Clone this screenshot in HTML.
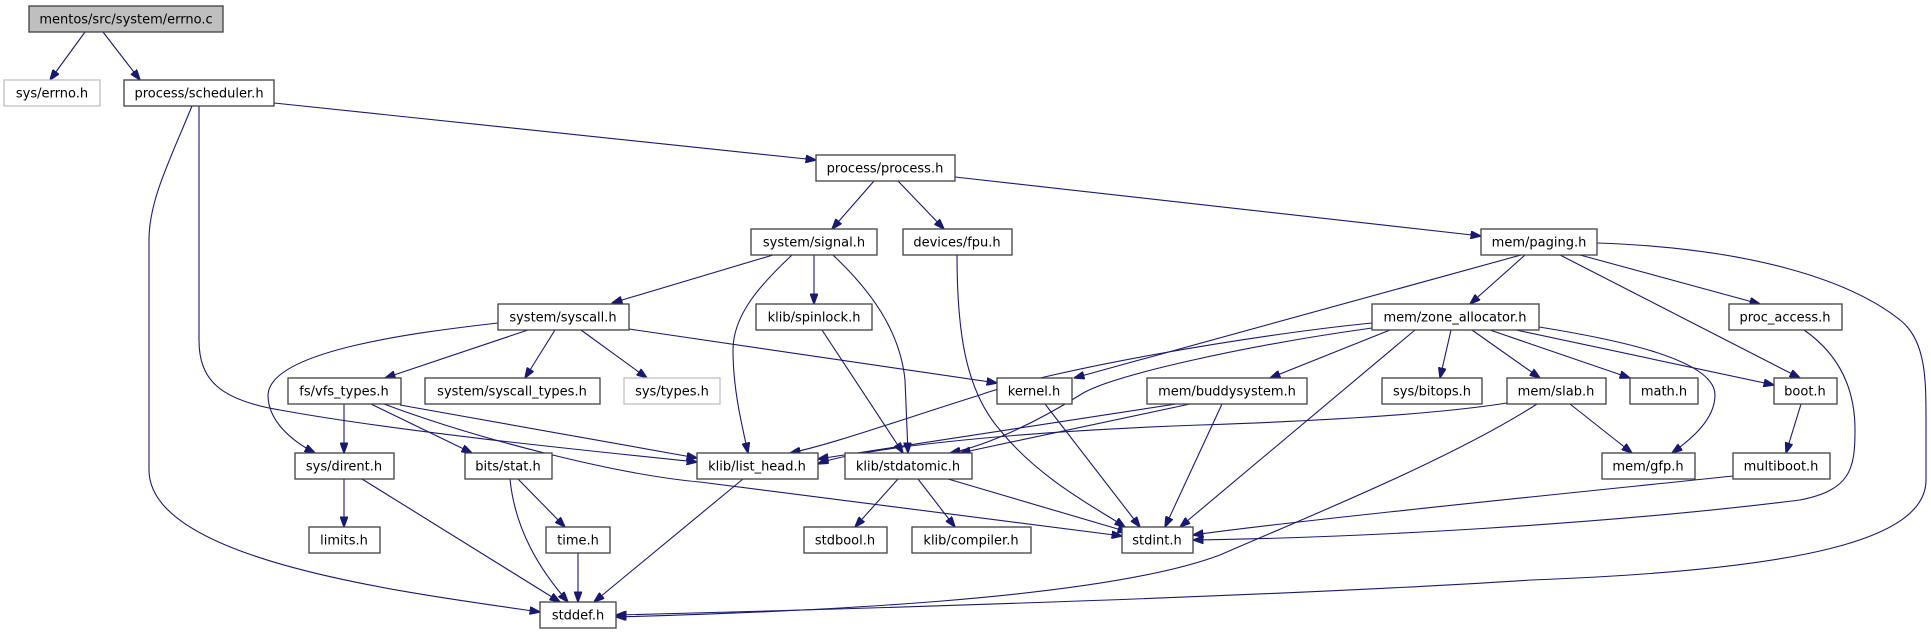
<!DOCTYPE html>
<html><head><meta charset="utf-8"><style>
html,body{margin:0;padding:0;background:#fff;}
svg{display:block;}
text{font-family:"DejaVu Sans","Liberation Sans",sans-serif;font-size:13px;fill:#000;}
.n{fill:#fff;stroke:#404040;stroke-width:1.3;}
.g{fill:#fff;stroke:#bfbfbf;stroke-width:1.3;}
.e{fill:none;stroke:#191970;stroke-width:1.1;}
</style></head><body>
<svg width="1931" height="635" viewBox="0 0 1931 635" xmlns="http://www.w3.org/2000/svg">
<defs><marker id="a" markerWidth="11" markerHeight="8" refX="10.5" refY="4" orient="auto" markerUnits="userSpaceOnUse"><path d="M0,0 L11,4 L0,8 z" fill="#191970" stroke="#191970"/></marker></defs>
<g class="e" marker-end="url(#a)">
<path d="M85,32 L50,80"/>
<path d="M103,32 L140,80"/>
<path d="M274,103 L816,160"/>
<path d="M199,106 L199,340 C199,380 220,400 280,410 C400,432 600,452 697,462"/>
<path d="M192,106 C170,160 149,200 149,240 L149,470 C149,560 400,592 540,612"/>
<path d="M874,181 L832,229"/>
<path d="M898,181 L944,229"/>
<path d="M955,177 L1481,236"/>
<path d="M773,255 L612,303"/>
<path d="M814,255 L814,304"/>
<path d="M792,255 C760,285 733,315 733,350 C733,390 742,425 748,453"/>
<path d="M833,255 C870,290 900,330 905,380 L908,453"/>
<path d="M957,255 C957,330 965,390 1000,430 C1040,480 1100,510 1125,527"/>
<path d="M1521,255 L1074,378"/>
<path d="M1525,255 L1470,304"/>
<path d="M1560,255 L1800,378"/>
<path d="M1580,255 L1760,304"/>
<path d="M1597,243 C1750,248 1850,280 1900,320 C1926,340 1926,380 1926,420 L1926,480 C1926,540 1800,570 1531,580 C1300,595 900,608 616,615"/>
<path d="M1804,330 C1840,355 1855,390 1855,430 C1855,470 1850,490 1800,500 C1600,525 1350,538 1193,540"/>
<path d="M498,323 C420,332 270,350 268,395 C268,420 290,440 315,453"/>
<path d="M528,330 L385,378"/>
<path d="M555,330 L525,378"/>
<path d="M581,330 L647,378"/>
<path d="M629,329 L997,383"/>
<path d="M822,330 L903,453"/>
<path d="M1372,323 C1250,335 1050,370 980,395 C900,420 830,445 790,453"/>
<path d="M1372,328 C1250,345 1110,375 1080,395 C1040,420 990,445 950,453"/>
<path d="M1390,330 L1270,378"/>
<path d="M1415,330 L1180,527"/>
<path d="M1451,330 L1440,378"/>
<path d="M1472,330 L1540,378"/>
<path d="M1490,330 L1630,378"/>
<path d="M1516,330 L1774,385"/>
<path d="M1539,327 C1620,340 1715,360 1715,395 C1715,420 1690,440 1672,453"/>
<path d="M344,404 L344,453"/>
<path d="M371,404 L472,453"/>
<path d="M400,405 L697,458"/>
<path d="M384,404 C480,440 620,475 700,482 L1122,536"/>
<path d="M1045,404 L1140,527"/>
<path d="M1176,404 L818,459"/>
<path d="M1190,404 L960,453"/>
<path d="M1222,404 L1165,527"/>
<path d="M1507,403 C1450,412 1350,420 1200,425 C1000,432 850,450 818,464"/>
<path d="M1570,404 L1632,453"/>
<path d="M1537,404 C1450,460 1300,520 1220,555 C1100,600 800,612 616,617"/>
<path d="M1801,404 L1786,453"/>
<path d="M1733,476 C1600,490 1300,520 1193,535"/>
<path d="M344,479 L344,527"/>
<path d="M362,479 L560,602"/>
<path d="M518,479 L565,527"/>
<path d="M510,479 C515,530 540,570 568,602"/>
<path d="M578,553 L578,602"/>
<path d="M743,479 L594,602"/>
<path d="M898,479 L855,527"/>
<path d="M918,479 L955,527"/>
<path d="M948,479 L1128,532"/>
</g>
<g>
<rect x="29" y="6" width="194" height="26" fill="#bfbfbf" stroke="#404040" stroke-width="1.3"/><text x="126" y="23.5" text-anchor="middle">mentos/src/system/errno.c</text>
<rect class="g" x="4" y="80" width="96" height="26"/><text x="52" y="97.5" text-anchor="middle">sys/errno.h</text>
<rect class="n" x="124" y="80" width="150" height="26"/><text x="199" y="97.5" text-anchor="middle">process/scheduler.h</text>
<rect class="n" x="816" y="155" width="139" height="26"/><text x="885" y="172.5" text-anchor="middle">process/process.h</text>
<rect class="n" x="751" y="229" width="126" height="26"/><text x="814" y="246.5" text-anchor="middle">system/signal.h</text>
<rect class="n" x="903" y="229" width="109" height="26"/><text x="957" y="246.5" text-anchor="middle">devices/fpu.h</text>
<rect class="n" x="1481" y="229" width="116" height="26"/><text x="1539" y="246.5" text-anchor="middle">mem/paging.h</text>
<rect class="n" x="498" y="304" width="131" height="26"/><text x="563" y="321.5" text-anchor="middle">system/syscall.h</text>
<rect class="n" x="756" y="304" width="116" height="26"/><text x="814" y="321.5" text-anchor="middle">klib/spinlock.h</text>
<rect class="n" x="1372" y="304" width="167" height="26"/><text x="1455" y="321.5" text-anchor="middle">mem/zone_allocator.h</text>
<rect class="n" x="1729" y="304" width="113" height="26"/><text x="1785" y="321.5" text-anchor="middle">proc_access.h</text>
<rect class="n" x="288" y="378" width="113" height="26"/><text x="344" y="395.5" text-anchor="middle">fs/vfs_types.h</text>
<rect class="n" x="425" y="378" width="175" height="26"/><text x="512" y="395.5" text-anchor="middle">system/syscall_types.h</text>
<rect class="g" x="624" y="378" width="96" height="26"/><text x="672" y="395.5" text-anchor="middle">sys/types.h</text>
<rect class="n" x="997" y="378" width="75" height="26"/><text x="1034" y="395.5" text-anchor="middle">kernel.h</text>
<rect class="n" x="1147" y="378" width="160" height="26"/><text x="1227" y="395.5" text-anchor="middle">mem/buddysystem.h</text>
<rect class="n" x="1382" y="378" width="100" height="26"/><text x="1432" y="395.5" text-anchor="middle">sys/bitops.h</text>
<rect class="n" x="1507" y="378" width="99" height="26"/><text x="1556" y="395.5" text-anchor="middle">mem/slab.h</text>
<rect class="n" x="1630" y="378" width="68" height="26"/><text x="1664" y="395.5" text-anchor="middle">math.h</text>
<rect class="n" x="1774" y="378" width="63" height="26"/><text x="1805" y="395.5" text-anchor="middle">boot.h</text>
<rect class="n" x="295" y="453" width="99" height="26"/><text x="344" y="470.5" text-anchor="middle">sys/dirent.h</text>
<rect class="n" x="465" y="453" width="87" height="26"/><text x="508" y="470.5" text-anchor="middle">bits/stat.h</text>
<rect class="n" x="697" y="453" width="121" height="26"/><text x="757" y="470.5" text-anchor="middle">klib/list_head.h</text>
<rect class="n" x="845" y="453" width="127" height="26"/><text x="908" y="470.5" text-anchor="middle">klib/stdatomic.h</text>
<rect class="n" x="1602" y="453" width="93" height="26"/><text x="1648" y="470.5" text-anchor="middle">mem/gfp.h</text>
<rect class="n" x="1733" y="453" width="97" height="26"/><text x="1781" y="470.5" text-anchor="middle">multiboot.h</text>
<rect class="n" x="309" y="527" width="71" height="26"/><text x="344" y="544.5" text-anchor="middle">limits.h</text>
<rect class="n" x="546" y="527" width="64" height="26"/><text x="578" y="544.5" text-anchor="middle">time.h</text>
<rect class="n" x="804" y="527" width="83" height="26"/><text x="845" y="544.5" text-anchor="middle">stdbool.h</text>
<rect class="n" x="912" y="527" width="119" height="26"/><text x="971" y="544.5" text-anchor="middle">klib/compiler.h</text>
<rect class="n" x="1122" y="527" width="71" height="26"/><text x="1157" y="544.5" text-anchor="middle">stdint.h</text>
<rect class="n" x="540" y="602" width="76" height="26"/><text x="578" y="619.5" text-anchor="middle">stddef.h</text>
</g>
</svg>
</body></html>
